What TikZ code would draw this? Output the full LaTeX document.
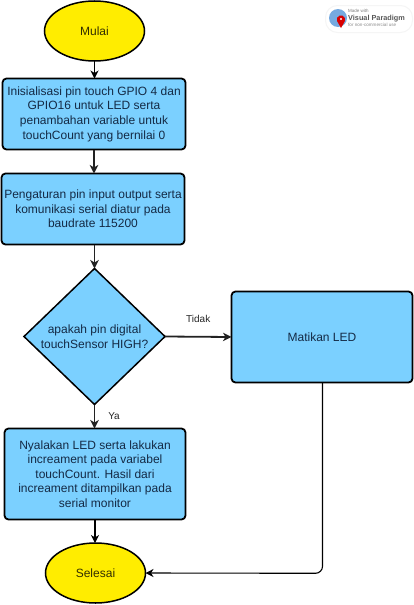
\documentclass[tikz,border=0pt]{standalone}
\usepackage{fontspec}
\setmainfont{Liberation Sans}
\usetikzlibrary{shapes.geometric,arrows.meta}
\definecolor{boxblue}{HTML}{7BD0FF}
\definecolor{startyellow}{HTML}{FFED00}
\definecolor{inktext}{HTML}{142A45}
\definecolor{linedark}{HTML}{222222}
\tikzset{
  boxstyle/.style={draw=black,fill=boxblue,line width=1.8pt,rounded corners=4pt,align=center,inner sep=0pt,outer sep=0pt,text=inktext,font=\fontsize{12}{14.6}\selectfont},
  termstyle/.style={draw=black,fill=startyellow,line width=1.5pt,ellipse,inner sep=0pt,outer sep=0pt,text=black!80!startyellow,font=\fontsize{12}{14.6}\selectfont,minimum width=100pt,minimum height=60pt},
  decstyle/.style={draw=black,fill=boxblue,line width=1.5pt,diamond,aspect=1.04,inner sep=0pt,outer sep=0pt,align=center,text=inktext,font=\fontsize{12}{14.6}\selectfont,minimum width=141pt,minimum height=136pt},
  flowthick/.style={draw=linedark,line width=1.8pt,-{Stealth[length=8.5pt,width=8.5pt,inset=2.5pt]}},
  flowthin/.style={draw=black,line width=1.1pt,-{Stealth[length=8pt,width=8pt,inset=2.5pt]}},
  lbl/.style={font=\fontsize{10}{12}\selectfont,text=black!85,inner sep=0pt},
}
\begin{document}
\begin{tikzpicture}[x=1pt,y=-1pt]
\useasboundingbox (0,0) rectangle (414,605);
\fill[white] (0,0) rectangle (414,605);
\node[termstyle] (start) at (94.5,31) {Mulai};
\node[boxstyle,minimum width=183pt,minimum height=71pt] (init) at (94,114) {Inisialisasi pin touch GPIO 4 dan\\GPIO16 untuk LED serta\\penambahan variable untuk\\touchCount yang bernilai 0};
\node[boxstyle,minimum width=183pt,minimum height=71pt] (setup) at (93,209) {Pengaturan pin input output serta\\komunikasi serial diatur pada\\baudrate 115200};
\node[decstyle] (dec) at (94.5,336.5) {apakah pin digital\\touchSensor HIGH?};
\node[boxstyle,minimum width=181pt,minimum height=91pt] (on) at (95,474) {Nyalakan LED serta lakukan\\increament pada variabel\\touchCount. Hasil dari\\increament ditampilkan pada\\serial monitor};
\node[boxstyle,minimum width=181pt,minimum height=91pt] (off) at (322,337) {Matikan LED};
\node[termstyle] (end) at (95.5,573) {Selesai};
\coordinate (corner) at (322.5,573.3);
\draw[flowthin] (start.south) -- (start.south |- init.north);
\draw[flowthick] (init.south) -- (init.south |- setup.north);
\draw[flowthick] (setup.south -| dec.north) -- (dec.north);
\draw[flowthick] (dec.east) -- (off.west) node[lbl,pos=0.5,above=13pt] {Tidak};
\draw[flowthick] (dec.south) -- (dec.south |- on.north) node[lbl,pos=0.5,xshift=19.5pt,yshift=0pt] {Ya};
\draw[flowthin] (on.south) -- (on.south |- end.north);
\draw[flowthin,rounded corners=7pt] (off.south -| corner) -- (corner) -- (end.east);
% watermark badge
\node[draw=black!4,fill=white,line width=1pt,rounded corners=12pt,minimum width=87pt,minimum height=27pt,inner sep=0pt] (badge) at (369,19) {};
\node[circle,fill=cyan!60!blue!55,minimum size=18pt,inner sep=0pt] (globe) at (338,18) {};
\fill[red!85!black] (341,28) -- (337,21) arc[start angle=200,end angle=-20,radius=4.2pt] -- cycle;
\fill[white] (341,19) circle[radius=1.2pt];
\node[inner sep=0pt,anchor=west,text=black!50,font=\fontsize{4.5}{5}\selectfont] (made) at (348,11) {Made with};
\node[inner sep=0pt,anchor=west,text=black!65,font=\bfseries\fontsize{7.3}{8}\selectfont] (vp) at (348,18.5) {Visual Paradigm};
\node[inner sep=0pt,anchor=west,text=black!45,font=\fontsize{4.6}{5}\selectfont] (nc) at (348,25) {for non-commercial use};
\end{tikzpicture}
\end{document}
